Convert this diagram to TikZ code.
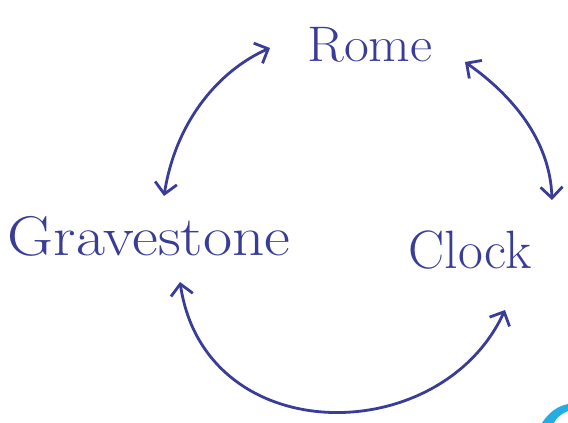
\documentclass[tikz,border=0pt]{standalone}
\usetikzlibrary{arrows.meta}
\definecolor{ink}{HTML}{393D98}
\definecolor{smudge}{HTML}{22AEE2}
\begin{document}
\begin{tikzpicture}[x=1pt,y=-1pt,
  word/.style={text=ink,font=\fontsize{50}{60}\selectfont,inner sep=0pt},
  link/.style={draw=ink,line width=2.8pt,line cap=round,line join=round,
    {Straight Barb[length=11pt,width=22pt,line width=2.8pt]}-{Straight Barb[length=11pt,width=22pt,line width=2.8pt]}}]
\useasboundingbox (0,0) rectangle (568,423);
\fill[white] (0,0) rectangle (568,423);
\node[word] (rome) at (370,45) {\scalebox{1.08}[1]{Rome}};
\node[word,font=\fontsize{56}{66}\selectfont] (grave) at (149,236) {\scalebox{1.13}[1]{Gravestone}};
\node[word,font=\fontsize{54}{64}\selectfont] (clock) at (470,250) {Clock};
% Rome -- Gravestone
\draw[link] ([shift={(15,-40)}]grave.center) .. controls ([shift={(27,-116)}]grave.center) and ([shift={(-150,25)}]rome.center) .. ([shift={(-100,3)}]rome.center);
% Rome -- Clock
\draw[link] ([shift={(95,17)}]rome.center) .. controls ([shift={(142,50)}]rome.center) and ([shift={(80,-110)}]clock.center) .. ([shift={(82,-50)}]clock.center);
% Gravestone -- Clock
\draw[link] ([shift={(31,46)}]grave.center) .. controls ([shift={(56,214)}]grave.center) and ([shift={(-30,200)}]clock.center) .. ([shift={(35,60)}]clock.center);
% smudge
\fill[smudge] (542,423) .. controls (549,412) and (558,406) .. (568,404) -- (568,411) .. controls (561,414) and (556,418) .. (554,423) -- cycle;
\end{tikzpicture}
\end{document}
